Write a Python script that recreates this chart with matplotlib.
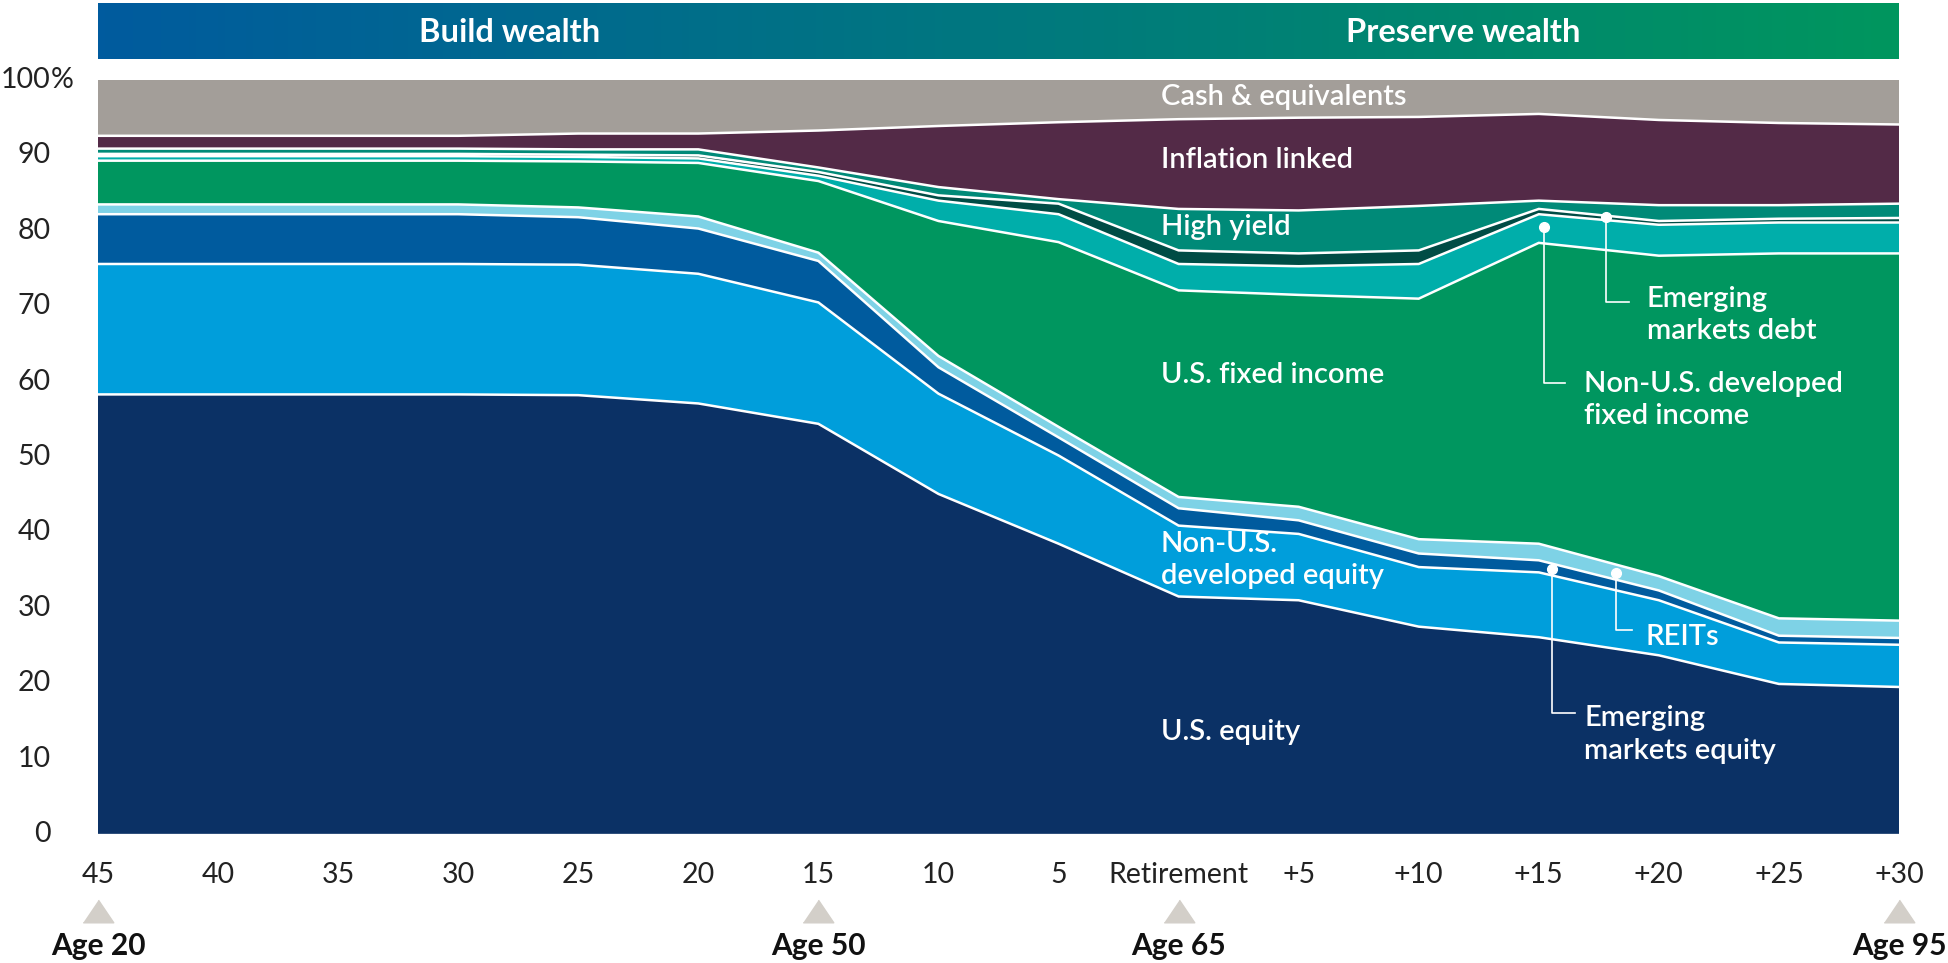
import numpy as np
import matplotlib
matplotlib.use("Agg")
import matplotlib.pyplot as plt
from matplotlib.colors import LinearSegmentedColormap

plt.rcParams['font.family'] = ['Lato', 'DejaVu Sans']

# x axis: years before / after retirement
ticks = ['45', '40', '35', '30', '25', '20', '15', '10', '5', 'Retirement',
         '+5', '+10', '+15', '+20', '+25', '+30']

# allocation by asset class (%), bottom to top
us_equity = [58.3, 58.3, 58.3, 58.3, 58.2, 57.1, 54.4, 45.1, 38.5, 31.5, 31.0, 27.5, 26.1, 23.7, 19.9, 19.5]
nonus_equity = [17.3, 17.3, 17.3, 17.3, 17.3, 17.2, 16.1, 13.3, 11.7, 9.4, 8.8, 7.9, 8.6, 7.3, 5.5, 5.6]
em_equity = [6.6, 6.6, 6.6, 6.6, 6.3, 6.0, 5.5, 3.5, 2.4, 2.3, 1.8, 1.8, 1.6, 1.3, 0.9, 0.9]
reits = [1.3, 1.3, 1.3, 1.3, 1.3, 1.6, 1.1, 1.5, 1.4, 1.5, 1.8, 1.9, 2.2, 1.9, 2.3, 2.3]
us_fixed = [5.8, 5.8, 5.8, 5.8, 6.1, 7.1, 9.5, 17.9, 24.5, 27.4, 28.1, 31.9, 39.9, 42.5, 48.4, 48.7]
nonus_fixed = [0.6, 0.6, 0.6, 0.6, 0.6, 0.6, 0.7, 2.7, 3.7, 3.5, 3.8, 4.6, 3.8, 4.1, 4.1, 4.1]
em_debt = [0.3, 0.3, 0.3, 0.3, 0.3, 0.4, 0.5, 0.7, 1.4, 1.8, 1.7, 1.8, 0.7, 0.5, 0.5, 0.6]
high_yield = [0.7, 0.7, 0.7, 0.7, 0.7, 0.8, 0.6, 1.1, 0.6, 5.5, 5.7, 5.9, 1.1, 2.1, 1.8, 1.9]
inflation = [1.7, 1.7, 1.7, 1.7, 2.1, 2.1, 4.9, 8.1, 10.2, 11.9, 12.3, 11.8, 11.5, 11.3, 10.9, 10.5]
cash = [7.4, 7.4, 7.4, 7.4, 7.1, 7.1, 6.7, 6.1, 5.6, 5.2, 5.0, 4.9, 4.5, 5.3, 5.7, 5.9]

ages = {0: 'Age 20', 6: 'Age 50', 9: 'Age 65', 15: 'Age 95'}

layers = [us_equity, nonus_equity, em_equity, reits, us_fixed, nonus_fixed,
          em_debt, high_yield, inflation, cash]
colors = ['#0b3165', '#009edb', '#005b9e', '#7ed2e6', '#00965f', '#00aeaa',
          '#004c45', '#008a78', '#532a47', '#a39e99']

W, H = 1949, 963
fig = plt.figure(figsize=(W / 100, H / 100), dpi=100)
L, R, T, B = 98, 1899, 80, 834
ax = fig.add_axes([L / W, 1 - B / H, (R - L) / W, (B - T) / H])

x = np.arange(len(ticks))
ax.stackplot(x, *layers, colors=colors, linewidth=0)
tops = np.cumsum(np.array(layers), axis=0)
for row in tops[:-1]:
    ax.plot(x, row, color='white', lw=1.8, solid_joinstyle='miter')
ax.axhline(0, color='#c8d0dc', lw=1)

ax.set_xlim(0, 15)
ax.set_ylim(0, 100)
for s in ax.spines.values():
    s.set_visible(False)
ax.set_xticks(x)
ax.set_xticklabels(ticks, fontsize=20.5, color='#222222')
ax.tick_params(axis='x', length=0, pad=20)
ax.set_yticks([])

# y labels, numbers right-aligned with % hanging
yt = ax.get_yaxis_transform()
for v in range(0, 101, 10):
    ax.text(-0.0262, v, str(v), transform=yt, ha='right', va='center',
            fontsize=20.5, color='#222222')
ax.text(-0.0262, 100, '%', transform=yt, ha='left', va='center',
        fontsize=20.5, color='#222222')

# age markers
tri = [(-1, -0.74), (1, -0.74), (0, 0.74)]
for i, lab in ages.items():
    ax.plot(i, -10.2, marker=tri, ms=22, color='#d3cfc9', clip_on=False, lw=0)
    ax.text(i, -14.8, lab, ha='center', va='center', fontsize=21.5,
            fontweight='bold', color='#111111', clip_on=False)

# layer labels
lab_kw = dict(fontsize=21, color='white', fontweight='semibold', va='center', ha='left')
ax.text(8.85, 97.7, 'Cash & equivalents', **lab_kw)
ax.text(8.85, 89.4, 'Inflation linked', **lab_kw)
ax.text(8.85, 80.5, 'High yield', **lab_kw)
ax.text(8.85, 60.9, 'U.S. fixed income', **lab_kw)
ax.text(8.85, 36.3, 'Non-U.S.\ndeveloped equity', linespacing=1.3, **lab_kw)
ax.text(8.85, 13.5, 'U.S. equity', **lab_kw)

# callouts: marker point, elbow down, text
callouts = [
    (12.04, 80.5, 59.8, 12.22, 12.38, 57.6, 'Non-U.S. developed\nfixed income'),
    (12.56, 81.8, 70.6, 12.75, 12.90, 68.8, 'Emerging\nmarkets debt'),
    (12.11, 35.1, 16.0, 12.30, 12.38, 13.2, 'Emerging\nmarkets equity'),
    (12.64, 34.6, 27.1, 12.78, 12.89, 26.1, 'REITs'),
]
for mx, my, ly, lx, tx, ty, txt in callouts:
    ax.plot([mx, mx, lx], [my, ly, ly], color='white', lw=1.2)
    ax.plot(mx, my, 'o', color='white', ms=7)
    ax.text(tx, ty, txt, linespacing=1.3, **lab_kw)

# banner with gradient
bax = fig.add_axes([L / W, 1 - 59 / H, (R - L) / W, 56 / H])
cmap = LinearSegmentedColormap.from_list('band', ['#005b9e', '#00787f', '#00965e'])
bax.imshow(np.linspace(0, 1, 256)[None, :], aspect='auto', cmap=cmap,
           extent=[0, 1, 0, 1])
bax.set_xlim(0, 1)
bax.set_ylim(0, 1)
bax.axis('off')
bax.text((510 - L) / (R - L), 0.48, 'Build wealth', ha='center', va='center',
         fontsize=23.5, fontweight='bold', color='white')
bax.text((1463 - L) / (R - L), 0.48, 'Preserve wealth', ha='center', va='center',
         fontsize=23.5, fontweight='bold', color='white')

fig.savefig('out.png', dpi=100)
